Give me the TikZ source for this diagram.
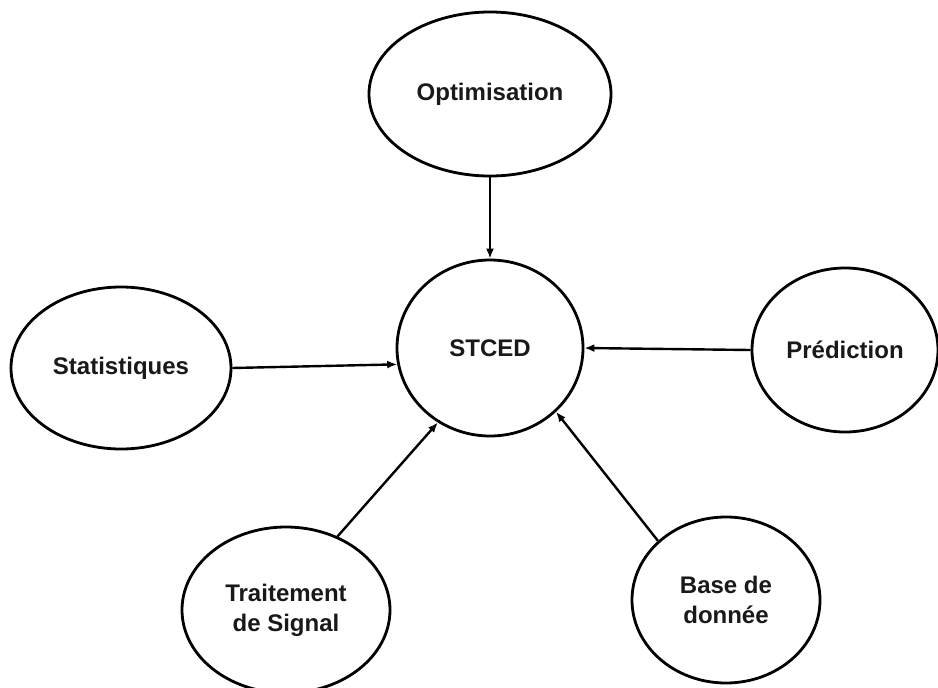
\documentclass[tikz,border=0pt]{standalone}
\usepackage{fontspec}
\setmainfont{Liberation Sans}
\usetikzlibrary{shapes.geometric,arrows.meta}

\tikzset{
  topic/.style={ellipse, draw=black, line width=2.8pt, fill=white, inner sep=0pt,
    align=center, text=black!90,
    font=\bfseries\fontsize{24}{30}\selectfont},
  link/.style={line width=2.4pt, -{Latex[length=10pt,width=8pt]}}
}

\begin{document}
\begin{tikzpicture}[x=1pt, y=-1pt]
  \useasboundingbox[fill=white] (0,0) rectangle (938,688);

  % central topic
  \node[topic, minimum width=186pt, minimum height=176pt] (stc) at (490,348) {STCED};

  % surrounding fields
  \node[topic, minimum width=242pt, minimum height=164pt] (opt) at (490,94) {Optimisation};
  \node[topic, minimum width=220pt, minimum height=162pt] (sta) at (121,368) {Statistiques};
  \node[topic, minimum width=186pt, minimum height=164pt] (pre) at (845,350) {Prédiction};
  \node[topic, minimum width=208pt, minimum height=166pt] (trs) at (286,610) {Traitement\\de Signal};
  \node[topic, minimum width=188pt, minimum height=166pt] (bdd) at (726,600) {Base de\\donnée};

  % links into the centre
  \draw[link] (opt.south) -- (stc.north);
  \draw[link] (sta.east) -- (stc.190.5);
  \draw[link] (pre.west) -- (stc.east);
  \draw[link] (trs.55.8) -- (stc.235.9);
  \draw[link] (bdd.139.9) -- (stc.316.3);
\end{tikzpicture}
\end{document}
